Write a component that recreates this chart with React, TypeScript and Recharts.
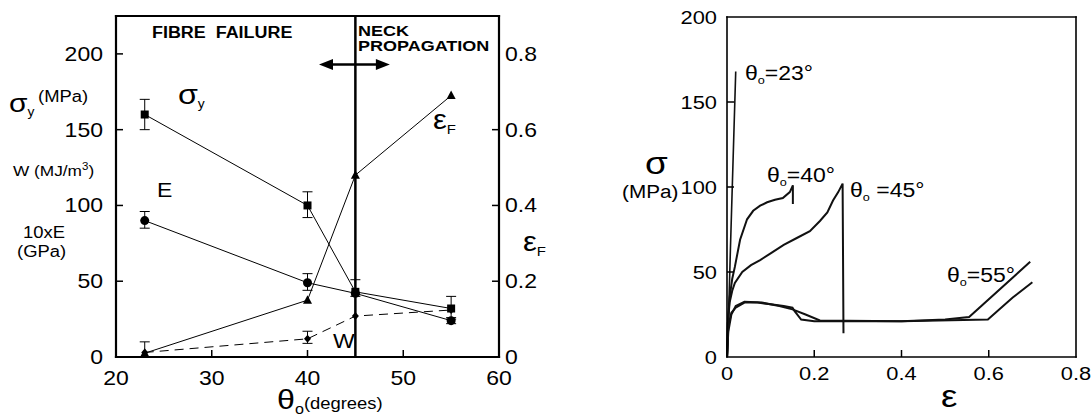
import React from 'react'
import {
  ComposedChart,
  LineChart,
  Line,
  Scatter,
  XAxis,
  YAxis,
  ErrorBar,
  ReferenceLine,
} from 'recharts'

const FONT = '"Liberation Sans", Arial, Helvetica, sans-serif'
const SX = 1.15

// left panel: properties vs fibre angle theta_o
const theta = [23, 40, 45, 55]
const sigmaY = [160, 100, 43, 32]
const sigmaYErr = [[10, 10], [8, 9], [3, 8], [7, 8]]
const tenE = [90, 49, 42, 24]
const tenEErr = [[5, 6], [5, 6], null, [2, 2]]
const epsF = [0.01, 0.15, 0.48, 0.69]
const epsFErr = [[0.01, 0.03], null, null, null]
const workW = [3, 12, 27, 31]
const workWErr = [null, [3, 5], null, null]

const leftXTicks = [20, 30, 40, 50, 60]
const leftYTicks = [0, 50, 100, 150, 200]
const rightYTicks = [0, 0.2, 0.4, 0.6, 0.8]

// right panel: stress-strain curves
const strain23 = [0.001, 0.008, 0.02]
const stress23 = [0, 65, 168]
const strain40 = [0, 0.002, 0.006, 0.012, 0.018, 0.03, 0.046, 0.06, 0.076, 0.092, 0.11, 0.128, 0.144, 0.151, 0.151]
const stress40 = [0, 20, 35, 46, 53, 69, 81, 86, 89, 91, 92.5, 93.5, 97, 101, 90]
const strain45 = [0, 0.002, 0.006, 0.012, 0.018, 0.035, 0.055, 0.076, 0.1, 0.13, 0.16, 0.19, 0.213, 0.23, 0.243, 0.255, 0.265, 0.267]
const stress45 = [0, 20, 32, 39, 43.5, 50, 54, 57, 61, 66, 70, 74, 80, 85, 92, 97, 102, 14]
const strain55a = [0, 0.003, 0.01, 0.02, 0.04, 0.07, 0.1, 0.13, 0.15, 0.155, 0.17, 0.2, 0.4, 0.5, 0.555, 0.695]
const stress55a = [0, 18, 26, 29, 32, 32, 31, 30, 29, 27, 22, 21, 21, 22, 23.5, 56]
const strain55b = [0, 0.003, 0.01, 0.02, 0.04, 0.08, 0.12, 0.15, 0.18, 0.213, 0.4, 0.598, 0.655, 0.7]
const stress55b = [0, 15, 25, 30, 32.5, 32, 30, 28, 25, 21.5, 21, 22, 35, 44]

const strainTicks = [0, 0.2, 0.4, 0.6, 0.8]
const stressTicks = [0, 50, 100, 150, 200]

const rows = (ys: number[], errs: any[]) => theta.map((x, i) => ({ x, y: ys[i], err: errs[i] }))
const curve = (xs: number[], ys: number[]) => xs.map((x, i) => ({ x, y: ys[i] }))

function label(x: number, y: number, text: string, anchor: string, size = 20) {
  const origin = anchor === 'end' ? '100% 50%' : anchor === 'start' ? '0% 50%' : '50% 50%'
  return (
    <text
      x={x}
      y={y}
      textAnchor={anchor}
      dominantBaseline="central"
      fill="#000"
      style={{ fontFamily: FONT, fontSize: size, transformBox: 'fill-box', transformOrigin: origin, transform: `scaleX(${SX})` }}
    >
      {text}
    </text>
  )
}

const mark = (x1: number, y1: number, x2: number, y2: number) => (
  <line x1={x1} y1={y1} x2={x2} y2={y2} stroke="#000" strokeWidth={1.5} />
)

const fmt1 = (v: number) => (v === 0 ? '0' : v.toFixed(1))

const bottomTick = (marks: number[], fmt: (v: number) => string, dy: number, size: number) => (p: any) => {
  const v = p.payload.value
  return (
    <g>
      {marks.includes(v) && mark(p.x, p.y, p.x, p.y - 7)}
      {label(p.x, p.y + dy, fmt(v), 'middle', size)}
    </g>
  )
}
const topTick = (p: any) => <g>{mark(p.x, p.y, p.x, p.y + 7)}</g>
const leftTick = (marks: number[], dx: number, size: number) => (p: any) => {
  const v = p.payload.value
  return (
    <g>
      {marks.includes(v) && mark(p.x, p.y, p.x + 7, p.y)}
      {label(p.x - dx, p.y, String(v), 'end', size)}
    </g>
  )
}
const rightTick = (marks: number[], fmt?: (v: number) => string) => (p: any) => {
  const v = p.payload.value
  return (
    <g>
      {marks.includes(v) && mark(p.x, p.y, p.x - 7, p.y)}
      {fmt && label(p.x + 6, p.y, fmt(v), 'start', 20)}
    </g>
  )
}

const square = (p: any) => <rect x={p.cx - 4} y={p.cy - 4} width={8} height={8} fill="#000" />
const circle = (p: any) => <circle cx={p.cx} cy={p.cy} r={4.5} fill="#000" />
const triangle = (p: any) => (
  <polygon points={`${p.cx},${p.cy - 5} ${p.cx - 4.5},${p.cy + 3.5} ${p.cx + 4.5},${p.cy + 3.5}`} fill="#000" />
)
const diamond = (p: any) => (
  <polygon points={`${p.cx},${p.cy - 4} ${p.cx + 3.5},${p.cy} ${p.cx},${p.cy + 4} ${p.cx - 3.5},${p.cy}`} fill="#000" />
)

const arrow = (p: any) => {
  const { x1, x2, y1 } = p
  const h = 14
  const w = 5.5
  return (
    <g>
      <line x1={x1 + h - 2} x2={x2 - h + 2} y1={y1} y2={y1} stroke="#000" strokeWidth={2.5} />
      <polygon points={`${x1},${y1} ${x1 + h},${y1 - w} ${x1 + h},${y1 + w}`} fill="#000" />
      <polygon points={`${x2},${y1} ${x2 - h},${y1 - w} ${x2 - h},${y1 + w}`} fill="#000" />
    </g>
  )
}

const axisLine = (w: number) => ({ stroke: '#000', strokeWidth: w, strokeLinecap: 'square' as const })

function T({ x, y, size, bold, sx = SX, lh = 1, children }: any) {
  return (
    <div
      style={{
        position: 'absolute',
        left: x,
        top: y,
        fontSize: size,
        fontWeight: bold ? 'bold' : 'normal',
        lineHeight: lh,
        whiteSpace: 'nowrap',
        transform: `translateY(-50%) scaleX(${sx})`,
        transformOrigin: 'left center',
      }}
    >
      {children}
    </div>
  )
}

const Sub = ({ children, size }: any) => (
  <span style={{ fontSize: size, position: 'relative', top: '0.35em' }}>{children}</span>
)

function LeftPanel() {
  return (
    <ComposedChart width={560} height={419} margin={{ top: 15, right: 1, bottom: 32, left: 56 }}>
      <XAxis
        dataKey="x"
        type="number"
        domain={[20, 60]}
        ticks={leftXTicks}
        interval={0}
        tickSize={0}
        tickMargin={0}
        tickLine={false}
        height={30}
        axisLine={axisLine(2.2)}
        tick={bottomTick([30, 40, 50], (v) => String(v), 21, 20)}
      />
      <XAxis
        xAxisId="top"
        orientation="top"
        type="number"
        domain={[20, 60]}
        ticks={[30, 40, 50]}
        interval={0}
        tickSize={0}
        tickMargin={0}
        tickLine={false}
        height={1}
        axisLine={axisLine(2.2)}
        tick={topTick}
      />
      <YAxis
        type="number"
        domain={[0, 225]}
        ticks={leftYTicks}
        interval={0}
        tickSize={0}
        tickMargin={0}
        tickLine={false}
        width={60}
        axisLine={axisLine(2.2)}
        tick={leftTick([50, 100, 150, 200], 13, 20)}
      />
      <YAxis
        yAxisId="right"
        orientation="right"
        type="number"
        domain={[0, 0.9]}
        ticks={rightYTicks}
        interval={0}
        tickSize={0}
        tickMargin={0}
        tickLine={false}
        width={60}
        axisLine={axisLine(2.2)}
        tick={rightTick([0.2, 0.4, 0.6], fmt1)}
      />
      <ReferenceLine x={45} stroke="#000" strokeWidth={2.5} />
      <ReferenceLine
        segment={[{ x: 41.2, y: 193 }, { x: 48.6, y: 193 }]}
        shape={arrow}
      />
      <Scatter data={rows(workW, workWErr)} dataKey="y" fill="#000" shape={diamond} isAnimationActive={false}
        line={{ stroke: '#000', strokeWidth: 1, strokeDasharray: '9 6' }}>
        <ErrorBar dataKey="err" direction="y" width={5} stroke="#000" strokeWidth={1} />
      </Scatter>
      <Scatter data={rows(tenE, tenEErr)} dataKey="y" fill="#000" shape={circle} isAnimationActive={false}
        line={{ stroke: '#000', strokeWidth: 1 }}>
        <ErrorBar dataKey="err" direction="y" width={5} stroke="#000" strokeWidth={1} />
      </Scatter>
      <Scatter data={rows(sigmaY, sigmaYErr)} dataKey="y" fill="#000" shape={square} isAnimationActive={false}
        line={{ stroke: '#000', strokeWidth: 1 }}>
        <ErrorBar dataKey="err" direction="y" width={5} stroke="#000" strokeWidth={1} />
      </Scatter>
      <Scatter yAxisId="right" data={rows(epsF, epsFErr)} dataKey="y" fill="#000" shape={triangle} isAnimationActive={false}
        line={{ stroke: '#000', strokeWidth: 1 }}>
        <ErrorBar dataKey="err" direction="y" width={5} stroke="#000" strokeWidth={1} />
      </Scatter>
    </ComposedChart>
  )
}

function RightPanel() {
  const curves = [
    curve(strain23, stress23),
    curve(strain40, stress40),
    curve(strain45, stress45),
    curve(strain55a, stress55a),
    curve(strain55b, stress55b),
  ]
  return (
    <LineChart width={492} height={419} margin={{ top: 16, right: 0, bottom: 32, left: 77 }}>
      <XAxis
        dataKey="x"
        type="number"
        domain={[0, 0.8]}
        ticks={strainTicks}
        interval={0}
        tickSize={0}
        tickMargin={0}
        tickLine={false}
        height={30}
        axisLine={axisLine(1.6)}
        tick={bottomTick([0.2, 0.4, 0.6], fmt1, 16, 19)}
      />
      <XAxis
        xAxisId="top"
        orientation="top"
        type="number"
        domain={[0, 0.8]}
        ticks={[0.2, 0.4, 0.6]}
        interval={0}
        tickSize={0}
        tickMargin={0}
        tickLine={false}
        height={1}
        axisLine={axisLine(1.6)}
        tick={topTick}
      />
      <YAxis
        type="number"
        domain={[0, 200]}
        ticks={stressTicks}
        interval={0}
        tickSize={0}
        tickMargin={0}
        tickLine={false}
        width={50}
        axisLine={axisLine(1.6)}
        tick={leftTick([50, 100, 150], 10, 19)}
      />
      <YAxis
        yAxisId="r"
        orientation="right"
        type="number"
        domain={[0, 200]}
        ticks={[50, 100, 150]}
        interval={0}
        tickSize={0}
        tickMargin={0}
        tickLine={false}
        width={16}
        axisLine={axisLine(1.6)}
        tick={rightTick([50, 100, 150])}
      />
      {curves.map((d, i) => (
        <Line
          key={i}
          data={d}
          dataKey="y"
          type="linear"
          stroke="#111"
          strokeWidth={i === 0 ? 1.6 : 2}
          dot={false}
          isAnimationActive={false}
        />
      ))}
    </LineChart>
  )
}

export default function App() {
  return (
    <div
      style={{
        position: 'absolute',
        left: 0,
        top: 0,
        width: 1092,
        height: 419,
        background: '#fff',
        fontFamily: FONT,
        color: '#000',
        overflow: 'hidden',
      }}
    >
      <div style={{ position: 'absolute', left: 0, top: 0 }}>
        <LeftPanel />
      </div>
      <div style={{ position: 'absolute', left: 600, top: 0 }}>
        <RightPanel />
      </div>

      {/* left panel texts */}
      <T x={9} y={103} size={26}>σ<Sub size={12}>y</Sub></T>
      <T x={38} y={97} size={16}>(MPa)</T>
      <T x={13} y={170} size={15}>W (MJ/m<sup style={{ fontSize: 10 }}>3</sup>)</T>
      <T x={23} y={233} size={16}>10xE</T>
      <T x={17} y={252} size={16}>(GPa)</T>
      <T x={152} y={33} size={16} bold sx={1.12}>FIBRE&nbsp;&nbsp;FAILURE</T>
      <T x={358} y={31} size={15} bold sx={1.2} lh={0.9}>NECK</T>
      <T x={358} y={46} size={15} bold sx={1.2} lh={0.9}>PROPAGATION</T>
      <T x={178} y={95} size={28}>σ<Sub size={12}>y</Sub></T>
      <T x={157} y={190} size={20}>E</T>
      <T x={433} y={120} size={27}>ε<Sub size={13}>F</Sub></T>
      <T x={333} y={341} size={20}>W</T>
      <T x={523} y={242} size={27}>ε<Sub size={13}>F</Sub></T>
      <T x={277} y={400} size={28}>θ<Sub size={14}>o</Sub><span style={{ fontSize: 16 }}>(degrees)</span></T>

      {/* right panel texts */}
      <T x={645} y={164} size={32} lh={0.8}>σ</T>
      <T x={622} y={192} size={18}>(MPa)</T>
      <T x={745} y={73} size={20}>θ<Sub size={11}>o</Sub>=23°</T>
      <T x={767} y={175} size={20}>θ<Sub size={11}>o</Sub>=40°</T>
      <T x={850} y={190} size={20}>θ<Sub size={11}>o</Sub> =45°</T>
      <T x={947} y={275} size={20}>θ<Sub size={11}>o</Sub>=55°</T>
      <T x={941} y={396} size={32}>ε</T>
    </div>
  )
}
